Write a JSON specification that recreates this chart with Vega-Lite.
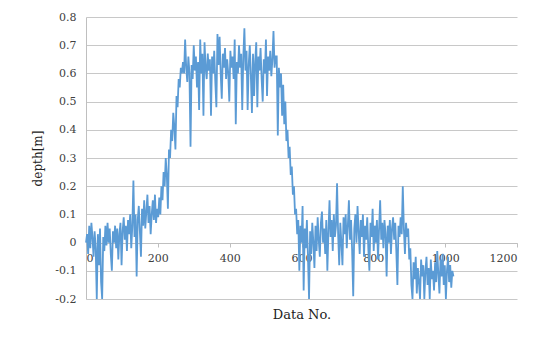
{
  "$schema": "https://vega.github.io/schema/vega-lite/v6.json",
  "width": 431,
  "height": 282,
  "autosize": {"type": "none"},
  "padding": {"left": 86, "top": 17, "right": 33, "bottom": 44},
  "background": "white",
  "config": {
    "view": {"stroke": null},
    "axis": {"labelFont": "DejaVu Serif", "titleFont": "DejaVu Serif", "labelColor": "#404040", "titleColor": "#222222", "labelFontSize": 11, "titleFontWeight": "normal"}
  },
  "data": {"values": [
    {"x":0,"y":0.0},{"x":3,"y":0.03},{"x":6,"y":-0.04},{"x":9,"y":0.06},{"x":12,"y":-0.02},{"x":15,"y":0.07},{"x":18,"y":0.02},{"x":21,"y":-0.05},{"x":24,"y":0.04},{"x":27,"y":-0.02},
    {"x":30,"y":-0.2},{"x":33,"y":0.03},{"x":36,"y":-0.08},{"x":39,"y":0.05},{"x":42,"y":-0.14},{"x":45,"y":-0.2},{"x":48,"y":0.02},{"x":51,"y":-0.03},{"x":54,"y":0.06},{"x":57,"y":-0.01},
    {"x":60,"y":0.07},{"x":63,"y":0.0},{"x":66,"y":0.05},{"x":69,"y":-0.04},{"x":72,"y":-0.1},{"x":75,"y":0.04},{"x":78,"y":0.0},{"x":81,"y":0.06},{"x":84,"y":-0.02},{"x":87,"y":0.05},
    {"x":90,"y":-0.06},{"x":93,"y":0.03},{"x":96,"y":0.07},{"x":99,"y":-0.08},{"x":102,"y":0.04},{"x":105,"y":0.09},{"x":108,"y":0.01},{"x":111,"y":0.06},{"x":114,"y":-0.03},{"x":117,"y":0.08},
    {"x":120,"y":0.03},{"x":123,"y":0.1},{"x":126,"y":-0.02},{"x":129,"y":0.06},{"x":132,"y":0.22},{"x":135,"y":0.02},{"x":138,"y":0.1},{"x":141,"y":-0.12},{"x":144,"y":0.08},{"x":147,"y":0.13},
    {"x":150,"y":0.04},{"x":153,"y":-0.05},{"x":156,"y":0.12},{"x":159,"y":0.06},{"x":162,"y":0.15},{"x":165,"y":0.05},{"x":168,"y":0.11},{"x":171,"y":0.17},{"x":174,"y":0.07},{"x":177,"y":0.13},
    {"x":180,"y":0.03},{"x":183,"y":0.1},{"x":186,"y":0.15},{"x":189,"y":0.08},{"x":192,"y":0.17},{"x":195,"y":0.07},{"x":198,"y":0.12},{"x":201,"y":0.09},{"x":204,"y":0.16},{"x":207,"y":0.1},
    {"x":210,"y":0.2},{"x":213,"y":0.15},{"x":216,"y":0.25},{"x":219,"y":0.2},{"x":222,"y":0.3},{"x":225,"y":0.24},{"x":228,"y":0.12},{"x":231,"y":0.33},{"x":234,"y":0.3},{"x":237,"y":0.4},
    {"x":240,"y":0.36},{"x":243,"y":0.46},{"x":246,"y":0.41},{"x":249,"y":0.33},{"x":252,"y":0.52},{"x":255,"y":0.48},{"x":258,"y":0.58},{"x":261,"y":0.55},{"x":264,"y":0.62},{"x":267,"y":0.6},
    {"x":270,"y":0.64},{"x":273,"y":0.6},{"x":276,"y":0.72},{"x":279,"y":0.62},{"x":282,"y":0.57},{"x":285,"y":0.66},{"x":288,"y":0.6},{"x":291,"y":0.34},{"x":294,"y":0.63},{"x":297,"y":0.58},
    {"x":300,"y":0.7},{"x":303,"y":0.61},{"x":306,"y":0.66},{"x":309,"y":0.55},{"x":312,"y":0.64},{"x":315,"y":0.47},{"x":318,"y":0.72},{"x":321,"y":0.6},{"x":324,"y":0.67},{"x":327,"y":0.45},
    {"x":330,"y":0.71},{"x":333,"y":0.62},{"x":336,"y":0.58},{"x":339,"y":0.67},{"x":342,"y":0.61},{"x":345,"y":0.65},{"x":348,"y":0.45},{"x":351,"y":0.66},{"x":354,"y":0.6},{"x":357,"y":0.68},
    {"x":360,"y":0.57},{"x":363,"y":0.48},{"x":366,"y":0.74},{"x":369,"y":0.63},{"x":372,"y":0.73},{"x":375,"y":0.6},{"x":378,"y":0.51},{"x":381,"y":0.67},{"x":384,"y":0.62},{"x":387,"y":0.69},
    {"x":390,"y":0.58},{"x":393,"y":0.65},{"x":396,"y":0.6},{"x":399,"y":0.5},{"x":402,"y":0.68},{"x":405,"y":0.62},{"x":408,"y":0.66},{"x":411,"y":0.58},{"x":414,"y":0.72},{"x":417,"y":0.42},
    {"x":420,"y":0.64},{"x":423,"y":0.6},{"x":426,"y":0.7},{"x":429,"y":0.62},{"x":432,"y":0.67},{"x":435,"y":0.47},{"x":438,"y":0.66},{"x":441,"y":0.76},{"x":444,"y":0.61},{"x":447,"y":0.68},
    {"x":450,"y":0.47},{"x":453,"y":0.63},{"x":456,"y":0.7},{"x":459,"y":0.59},{"x":462,"y":0.46},{"x":465,"y":0.67},{"x":468,"y":0.52},{"x":471,"y":0.64},{"x":474,"y":0.71},{"x":477,"y":0.48},
    {"x":480,"y":0.66},{"x":483,"y":0.61},{"x":486,"y":0.69},{"x":489,"y":0.58},{"x":492,"y":0.5},{"x":495,"y":0.65},{"x":498,"y":0.6},{"x":501,"y":0.72},{"x":504,"y":0.52},{"x":507,"y":0.66},
    {"x":510,"y":0.61},{"x":513,"y":0.68},{"x":516,"y":0.59},{"x":519,"y":0.65},{"x":522,"y":0.75},{"x":525,"y":0.62},{"x":528,"y":0.66},{"x":531,"y":0.66},{"x":534,"y":0.38},{"x":537,"y":0.62},
    {"x":540,"y":0.55},{"x":543,"y":0.6},{"x":546,"y":0.45},{"x":549,"y":0.56},{"x":552,"y":0.42},{"x":555,"y":0.5},{"x":558,"y":0.36},{"x":561,"y":0.4},{"x":564,"y":0.3},{"x":567,"y":0.34},
    {"x":570,"y":0.24},{"x":573,"y":0.27},{"x":576,"y":0.17},{"x":579,"y":0.2},{"x":582,"y":0.1},{"x":585,"y":0.12},{"x":588,"y":0.03},{"x":591,"y":0.08},{"x":594,"y":-0.1},{"x":597,"y":0.06},
    {"x":600,"y":0.0},{"x":603,"y":0.13},{"x":606,"y":-0.17},{"x":609,"y":0.05},{"x":612,"y":-0.02},{"x":615,"y":0.08},{"x":618,"y":-0.05},{"x":621,"y":-0.2},{"x":624,"y":0.04},{"x":627,"y":-0.04},
    {"x":630,"y":0.07},{"x":633,"y":0.0},{"x":636,"y":-0.09},{"x":639,"y":0.06},{"x":642,"y":-0.03},{"x":645,"y":0.09},{"x":648,"y":0.01},{"x":651,"y":-0.05},{"x":654,"y":0.07},{"x":657,"y":0.11},
    {"x":660,"y":0.0},{"x":663,"y":0.05},{"x":666,"y":-0.04},{"x":669,"y":0.08},{"x":672,"y":-0.1},{"x":675,"y":0.04},{"x":678,"y":0.15},{"x":681,"y":0.02},{"x":684,"y":0.08},{"x":687,"y":-0.03},
    {"x":690,"y":0.1},{"x":693,"y":0.02},{"x":696,"y":0.06},{"x":699,"y":0.21},{"x":702,"y":0.03},{"x":705,"y":-0.08},{"x":708,"y":0.07},{"x":711,"y":0.0},{"x":714,"y":-0.08},{"x":717,"y":0.09},
    {"x":720,"y":0.03},{"x":723,"y":0.1},{"x":726,"y":-0.02},{"x":729,"y":0.06},{"x":732,"y":0.15},{"x":735,"y":0.01},{"x":738,"y":0.08},{"x":741,"y":-0.03},{"x":744,"y":-0.19},{"x":747,"y":0.05},
    {"x":750,"y":0.1},{"x":753,"y":0.0},{"x":756,"y":0.13},{"x":759,"y":0.04},{"x":762,"y":-0.04},{"x":765,"y":0.08},{"x":768,"y":0.02},{"x":771,"y":0.1},{"x":774,"y":-0.05},{"x":777,"y":0.06},
    {"x":780,"y":0.01},{"x":783,"y":0.09},{"x":786,"y":-0.02},{"x":789,"y":-0.1},{"x":792,"y":0.07},{"x":795,"y":0.02},{"x":798,"y":0.12},{"x":801,"y":-0.03},{"x":804,"y":0.06},{"x":807,"y":0.0},
    {"x":810,"y":0.08},{"x":813,"y":-0.06},{"x":816,"y":0.05},{"x":819,"y":0.15},{"x":822,"y":0.01},{"x":825,"y":0.07},{"x":828,"y":-0.02},{"x":831,"y":0.08},{"x":834,"y":0.03},{"x":837,"y":-0.12},
    {"x":840,"y":0.06},{"x":843,"y":0.0},{"x":846,"y":0.08},{"x":849,"y":-0.04},{"x":852,"y":0.05},{"x":855,"y":0.09},{"x":858,"y":0.01},{"x":861,"y":0.07},{"x":864,"y":-0.03},{"x":867,"y":-0.15},
    {"x":870,"y":0.06},{"x":873,"y":0.02},{"x":876,"y":0.09},{"x":879,"y":0.03},{"x":882,"y":0.2},{"x":885,"y":0.05},{"x":888,"y":-0.04},{"x":891,"y":0.07},{"x":894,"y":0.02},{"x":897,"y":0.05},
    {"x":900,"y":-0.06},{"x":903,"y":-0.02},{"x":906,"y":-0.15},{"x":909,"y":-0.2},{"x":912,"y":-0.07},{"x":915,"y":-0.13},{"x":918,"y":-0.05},{"x":921,"y":-0.18},{"x":924,"y":-0.09},{"x":927,"y":-0.14},
    {"x":930,"y":-0.2},{"x":933,"y":-0.06},{"x":936,"y":-0.12},{"x":939,"y":-0.08},{"x":942,"y":-0.2},{"x":945,"y":-0.1},{"x":948,"y":-0.05},{"x":951,"y":-0.15},{"x":954,"y":-0.09},{"x":957,"y":-0.2},
    {"x":960,"y":-0.06},{"x":963,"y":-0.13},{"x":966,"y":-0.1},{"x":969,"y":-0.17},{"x":972,"y":-0.07},{"x":975,"y":-0.14},{"x":978,"y":-0.03},{"x":981,"y":-0.11},{"x":984,"y":-0.18},{"x":987,"y":-0.06},
    {"x":990,"y":-0.12},{"x":993,"y":-0.04},{"x":996,"y":-0.15},{"x":999,"y":-0.08},{"x":1002,"y":-0.2},{"x":1005,"y":-0.1},{"x":1008,"y":-0.05},{"x":1011,"y":-0.14},{"x":1014,"y":-0.08},{"x":1017,"y":-0.16},
    {"x":1020,"y":-0.1},{"x":1023,"y":-0.12}
  ]},
  "mark": {"type": "line", "color": "#5B9BD5", "strokeWidth": 1.8},
  "encoding": {
    "x": {
      "field": "x", "type": "quantitative",
      "scale": {"domain": [0, 1200], "nice": false, "zero": false},
      "axis": {
        "title": "Data No.", "titleFontSize": 13, "titlePadding": 45,
        "values": [0, 200, 400, 600, 800, 1000, 1200], "format": "d",
        "offset": -56, "grid": false,
        "domain": true, "domainColor": "#bfbfbf",
        "ticks": true, "tickSize": 4, "tickColor": "#bfbfbf",
        "labelPadding": 5, "labelFontSize": 11
      }
    },
    "y": {
      "field": "y", "type": "quantitative",
      "scale": {"domain": [-0.2, 0.8], "nice": false, "zero": false},
      "axis": {
        "title": "depth[m]", "titleFontSize": 12, "titlePadding": 10,
        "values": [-0.2, -0.1, 0, 0.1, 0.2, 0.3, 0.4, 0.5, 0.6, 0.7, 0.8],
        "labelExpr": "datum.value == 0 ? '0' : replace(format(datum.value, '.1f'), '\u2212', '-')",
        "grid": true, "gridColor": "#c8c8c8", "gridWidth": 1,
        "domain": true, "domainColor": "#bfbfbf",
        "ticks": false, "labelPadding": 10
      }
    }
  }
}
